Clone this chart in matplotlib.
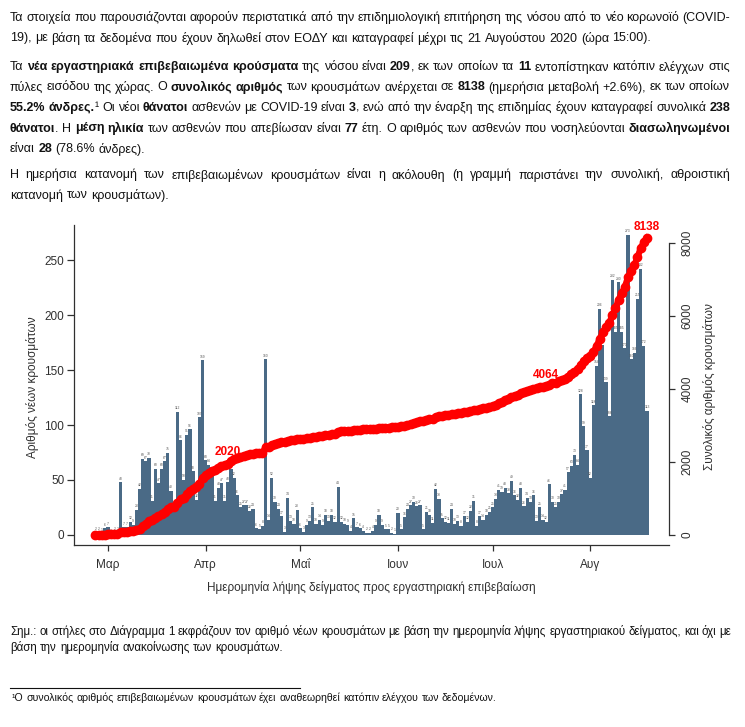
import numpy as np
import pandas as pd
import matplotlib
matplotlib.use("Agg")
import matplotlib.pyplot as plt
from matplotlib import font_manager

# daily new cases by sample date, starting 26 Feb 2020
feb_cases = [2, 2, 1, 6]
mar_cases = [7, 0, 2, 2, 48, 7, 7, 12, 9, 23, 42, 69, 67, 70, 31, 60, 47, 60, 67, 75,
             40, 22, 112, 86, 50, 91, 96, 58, 32, 107, 159]
apr_cases = [68, 64, 57, 31, 43, 47, 31, 48, 60, 52, 36, 25, 27, 27, 22, 24, 6, 5, 8, 160,
             14, 52, 30, 24, 17, 3, 34, 13, 10, 23]
may_cases = [6, 3, 9, 13, 25, 10, 14, 9, 18, 13, 18, 12, 44, 12, 10, 9, 4, 15, 7, 6,
             4, 2, 2, 4, 9, 18, 9, 5, 5, 2, 1]
jun_cases = [20, 5, 16, 24, 27, 30, 26, 27, 5, 21, 18, 11, 42, 33, 15, 12, 11, 24, 10, 13,
             8, 17, 12, 22, 31, 8, 17, 14, 18, 21]
jul_cases = [25, 33, 41, 39, 43, 38, 49, 36, 32, 43, 26, 34, 30, 36, 13, 25, 14, 12, 46, 30,
             25, 30, 37, 41, 57, 63, 73, 64, 128, 99, 77]
aug_cases = [52, 118, 154, 206, 173, 139, 108, 232, 185, 230, 185, 170, 273, 160, 166, 215,
             242, 172, 113]
start_date = "2020-02-26"

month_ticks = ["2020-03-01", "2020-04-01", "2020-05-01", "2020-06-01", "2020-07-01", "2020-08-01"]
month_labels = ["Μαρ", "Απρ", "Μαΐ", "Ιουν", "Ιουλ", "Αυγ"]
left_ticks = [0, 50, 100, 150, 200, 250]
right_ticks = [0, 2000, 4000, 6000, 8000]
milestone_dates = ["2020-04-08", "2020-07-18", "2020-08-19"]
milestone_labels = ["2020", "4064", "8138"]

# text of the page around the chart: (text, bold) pieces per line
para_lines = [
    [("Τα στοιχεία που παρουσιάζονται αφορούν περιστατικά από την επιδημιολογική επιτήρηση της νόσου από το νέο κορωνοϊό (COVID-", False)],
    [("19), με βάση τα δεδομένα που έχουν δηλωθεί στον ΕΟΔΥ και καταγραφεί μέχρι τις 21 Αυγούστου 2020 (ώρα 15:00).", False)],
    [("Τα ", False), ("νέα εργαστηριακά επιβεβαιωμένα κρούσματα", True), (" της νόσου είναι ", False), ("209", True),
     (", εκ των οποίων τα ", False), ("11", True), (" εντοπίστηκαν κατόπιν ελέγχων στις", False)],
    [("πύλες εισόδου της χώρας. Ο ", False), ("συνολικός αριθμός", True), (" των κρουσμάτων ανέρχεται σε ", False),
     ("8138", True), (" (ημερήσια μεταβολή +2.6%), εκ των οποίων", False)],
    [("55.2% άνδρες.", True), ("¹ Οι νέοι ", False), ("θάνατοι", True), (" ασθενών με COVID-19 είναι ", False), ("3", True),
     (", ενώ από την έναρξη της επιδημίας έχουν καταγραφεί συνολικά ", False), ("238", True)],
    [("θάνατοι", True), (". Η ", False), ("μέση ηλικία", True), (" των ασθενών που απεβίωσαν είναι ", False), ("77", True),
     (" έτη. Ο αριθμός των ασθενών που νοσηλεύονται ", False), ("διασωληνωμένοι", True)],
    [("είναι ", False), ("28", True), (" (78.6% άνδρες).", False)],
    [("Η ημερήσια κατανομή των επιβεβαιωμένων κρουσμάτων είναι η ακόλουθη (η γραμμή παριστάνει την συνολική, αθροιστική", False)],
    [("κατανομή των κρουσμάτων).", False)],
]
para_y = [18, 38.5, 67, 87.5, 108, 128.5, 149, 175, 195.5]
para_justify = [True, False, True, True, True, True, False, True, False]

note_lines = [
    [("Σημ.: οι στήλες στο Διάγραμμα 1 εκφράζουν τον αριθμό νέων κρουσμάτων με βάση την ημερομηνία λήψης εργαστηριακού δείγματος, και όχι με", False)],
    [("βάση την ημερομηνία ανακοίνωσης των κρουσμάτων.", False)],
]
note_y = [632, 648]
note_justify = [True, False]
footnote = [("¹Ο συνολικός αριθμός επιβεβαιωμένων κρουσμάτων έχει αναθεωρηθεί κατόπιν ελέγχου των δεδομένων.", False)]

cases = np.array(feb_cases + mar_cases + apr_cases + may_cases + jun_cases + jul_cases + aug_cases)
dates = pd.date_range(start_date, periods=len(cases), freq="D")
cumulative = np.cumsum(cases)

avail = {f.name for f in font_manager.fontManager.ttflist}
narrow = "Liberation Sans Narrow" if "Liberation Sans Narrow" in avail else "Liberation Sans"
plt.rcParams["font.family"] = [narrow, "DejaVu Sans"]

W, H = 745, 727
BAR = "#4a6a86"
INK = "#111111"
AXC = "#303030"

fig = plt.figure(figsize=(W / 100, H / 100), dpi=100)
renderer = fig.canvas.get_renderer()


def chunk_width(s, size, bold):
    t = fig.text(0, 0, s, fontsize=size, fontweight="bold" if bold else "normal")
    w = t.get_window_extent(renderer).width
    t.remove()
    return w


def split_words(segments):
    words = [[]]
    for text, bold in segments:
        parts = text.split(" ")
        for i, p in enumerate(parts):
            if i > 0:
                words.append([])
            if p:
                words[-1].append((p, bold))
    return [w for w in words if w]


def draw_line(segments, y, size, x0, x1=None, color=INK):
    words = split_words(segments)
    widths = [[chunk_width(s, size, b) for s, b in w] for w in words]
    total = sum(sum(ws) for ws in widths)
    sp = chunk_width("x x", size, False) - chunk_width("xx", size, False)
    if x1 is not None and len(words) > 1:
        gap = (x1 - x0 - total) / (len(words) - 1)
    else:
        gap = sp
    x = x0
    for w, ws in zip(words, widths):
        for (s, b), cw in zip(w, ws):
            fig.text(x / W, 1 - y / H, s, fontsize=size, fontweight="bold" if b else "normal",
                     va="center", ha="left", color=color)
            x += cw
        x += gap


def natural_width(segments, size):
    words = split_words(segments)
    sp = chunk_width("x x", size, False) - chunk_width("xx", size, False)
    return sum(chunk_width(s, size, b) for w in words for s, b in w) + sp * (len(words) - 1)


# font sizes fitted to where the short (unjustified) lines end on the page
para_size = 10 * (169 - 10) / natural_width(para_lines[8], 10)
note_size = 10 * (284 - 10) / natural_width(note_lines[1], 10)
foot_size = 10 * (496 - 12) / natural_width(footnote, 10)

for seg, y, j in zip(para_lines, para_y, para_justify):
    draw_line(seg, y, para_size, 10, 730 if j else None)
for seg, y, j in zip(note_lines, note_y, note_justify):
    draw_line(seg, y, note_size, 10, 731 if j else None)
draw_line(footnote, 698, foot_size, 12)
fig.add_artist(plt.Line2D([10 / W, 300 / W], [1 - 688 / H, 1 - 688 / H], color=INK, lw=0.8))

# chart
ax = fig.add_axes([74 / W, 1 - 545 / H, (669 - 74) / W, (545 - 225) / H])
ax.bar(dates, cases, width=1.0, color=BAR, linewidth=0, zorder=2)
for d, v in zip(dates, cases):
    ax.text(d, v + 1.5, str(v), fontsize=2.4, ha="center", va="bottom", color="#555555", zorder=3)
ax.set_ylim(-9.2, 282.2)
t0 = pd.Timestamp(start_date)
ax.set_xlim(t0 - pd.Timedelta(days=6.8), t0 + pd.Timedelta(days=182))
ax.set_xticks(pd.to_datetime(month_ticks))
ax.set_xticklabels(month_labels)
ax.set_yticks(left_ticks)
for s in ["top", "right"]:
    ax.spines[s].set_visible(False)
for s in ["left", "bottom"]:
    ax.spines[s].set_color(AXC)
    ax.spines[s].set_linewidth(0.9)
ax.tick_params(axis="y", length=5, width=0.9, color=AXC, labelsize=8.5, labelcolor=AXC, pad=2)
ax.tick_params(axis="x", length=4, width=0.9, color=AXC, labelsize=8.5, labelcolor=AXC, pad=6)

ax2 = ax.twinx()
ax2.plot(dates, cumulative, color="#ff0000", lw=4.5, marker="o", ms=6, zorder=4)
ax2.set_ylim(-274, 8493)
ax2.set_yticks(right_ticks)
ax2.set_yticklabels([str(v) for v in right_ticks], rotation=90, va="center")
for s in ["top", "left", "bottom"]:
    ax2.spines[s].set_visible(False)
ax2.spines["right"].set_bounds(0, 8000)
ax2.spines["right"].set_color(AXC)
ax2.spines["right"].set_linewidth(0.9)
ax2.tick_params(axis="y", length=4, width=0.9, color=AXC, labelsize=8.5, labelcolor=AXC, pad=5)

for d, lab in zip(milestone_dates, milestone_labels):
    i = int((pd.Timestamp(d) - t0).days)
    ax2.annotate(lab, (dates[i], cumulative[i]), xytext=(0, 8), textcoords="offset points",
                 ha="center", va="center", color="#ff0000", fontweight="bold", fontsize=8.5, zorder=5)

fig.text(33 / W, 1 - 387 / H, "Αριθμός νέων κρουσμάτων", rotation=90, ha="center", va="center",
         fontsize=8.5, color=AXC)
fig.text(710 / W, 1 - 387 / H, "Συνολικός αριθμός κρουσμάτων", rotation=90, ha="center", va="center",
         fontsize=8.5, color=AXC)
fig.text(371 / W, 1 - 588 / H, "Ημερομηνία λήψης δείγματος προς εργαστηριακή επιβεβαίωση",
         ha="center", va="center", fontsize=8.5, color=AXC)

fig.savefig("out.png", dpi=100)
